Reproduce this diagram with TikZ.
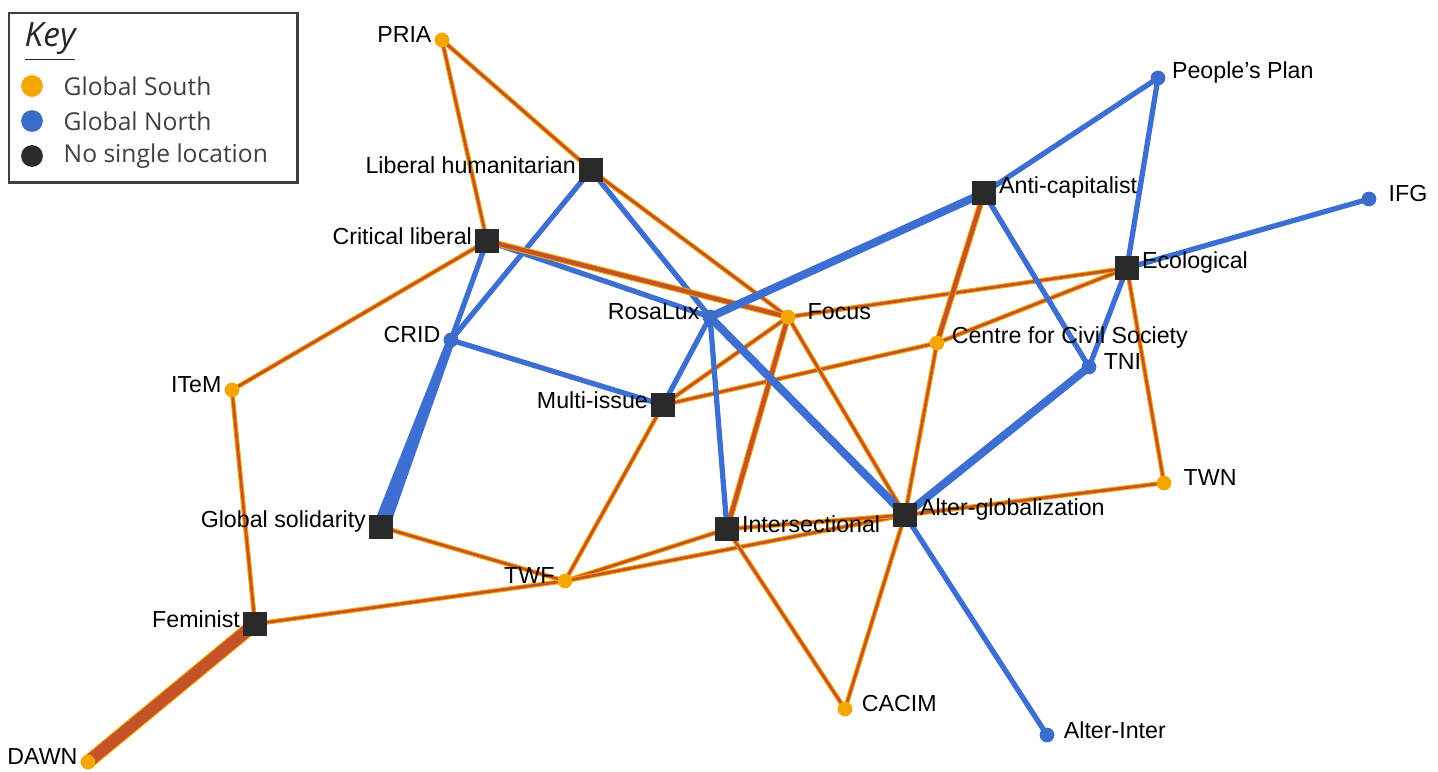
\documentclass[tikz,border=0pt]{standalone}
\usepackage{fontspec}
\setmainfont{Liberation Sans}
\newfontfamily\keyfont{Open Sans}
\usetikzlibrary{backgrounds,calc}
\definecolor{gsouth}{HTML}{F4A600}
\definecolor{gnorth}{HTML}{3B6CC9}
\definecolor{nsl}{HTML}{2A2A2A}
\definecolor{redcore}{HTML}{C4532A}
\definecolor{bluedge}{HTML}{3D6FD2}
\begin{document}
\begin{tikzpicture}[x=0.01cm,y=-0.01cm,
 lab/.style={font=\fontsize{6.6}{7.5}\selectfont, text=black, inner sep=0.5pt, yshift=1.5pt},
 sq/.style={rectangle, fill=nsl, minimum size=6.8pt, inner sep=0pt, label distance=0.1pt},
 sqr/.style={sq, label distance=1.8pt},
 sdot/.style={circle, fill=gsouth, minimum size=4.2pt, inner sep=0pt, label distance=1.6pt},
 ndot/.style={circle, fill=gnorth, minimum size=4.2pt, inner sep=0pt, label distance=1.6pt},
 oe/.style={draw=gsouth, line width=0.3pt, double=redcore, double distance=0.75pt},
 oet/.style={draw=gsouth, line width=0.3pt, double=redcore, double distance=1.2pt},
 be/.style={draw=bluedge, line width=1.5pt},
 bet/.style={draw=bluedge, line width=2.3pt},
 keydot/.style={circle, minimum width=6.2pt, minimum height=5.6pt, inner sep=0pt},
 keytxt/.style={font=\keyfont\fontsize{7}{8}\selectfont, anchor=west, inner sep=0pt, text=black!75}
]
\useasboundingbox (0,0) rectangle (1438,772);
% nodes
\node[sdot, label={[lab]left:PRIA}] (pria) at (442,40) {};
\node[sq, label={[lab]left:Liberal humanitarian}] (libhum) at (591,170) {};
\node[sq, label={[lab]left:Critical liberal}] (critlib) at (487,241) {};
\node[ndot, label={[lab]left:CRID}] (crid) at (451,340) {};
\node[sdot, label={[lab]left:ITeM}] (item) at (232,390) {};
\node[sq, label={[lab]left:Global solidarity}] (globsol) at (381,527) {};
\node[sq, label={[lab]left:Feminist}] (fem) at (255,624) {};
\node[sdot, label={[lab]left:DAWN}] (dawn) at (88,762) {};
\node[sdot, label={[lab]left:TWF}] (twf) at (565,581) {};
\node[sq, label={[lab]left:Multi-issue}] (multi) at (663,405) {};
\node[ndot, label={[lab]left:RosaLux}] (rosa) at (710,317) {};
\node[sdot, label={[lab, xshift=2.6pt]right:Focus}] (focus) at (788,317) {};
\node[sqr, label={[lab]right:Intersectional}] (inter) at (727,529) {};
\node[sqr, label={[lab]right:Alter-globalization}] (alter) at (905,515) {};
\node[sdot, label={[lab, xshift=1.8pt]right:CACIM}] (cacim) at (845,709) {};
\node[ndot, label={[lab, xshift=1.8pt]right:Alter-Inter}] (alterinter) at (1047,735) {};
\node[sdot, label={[lab, xshift=1.2pt]right:Centre for Civil Society}] (ccs) at (937,343) {};
\node[ndot, label={[lab, xshift=1.2pt]right:TNI}] (tni) at (1089,367) {};
\node[sq, label={[lab]right:Ecological}] (eco) at (1127,268) {};
\node[sqr, label={[lab]right:Anti-capitalist}] (anti) at (984,193) {};
\node[ndot, label={[lab, xshift=1pt]right:People's Plan}] (pplan) at (1158,78) {};
\node[ndot, label={[lab, xshift=2.6pt]right:IFG}] (ifg) at (1369,199) {};
\node[sdot, label={[lab, xshift=2.6pt]right:TWN}] (twn) at (1164,483) {};
% key
\node[draw=black!75, line width=0.7pt, minimum width=2.88cm, minimum height=1.69cm, anchor=north west, inner sep=0pt] (key) at (8,12) {};
\node[font=\keyfont\itshape\fontsize{9.5}{10}\selectfont, anchor=west, inner sep=0pt, text=black!85] (keyt) at (24,42) {\underline{Key}};
\node[keydot, fill=gsouth] (k1) at (32,86) {};
\node[keytxt] (k1t) at (63,86) {Global South};
\node[keydot, fill=gnorth] (k2) at (32,121) {};
\node[keytxt] (k2t) at (63,121) {Global North};
\node[keydot, fill=nsl] (k3) at (32,156) {};
\node[keytxt] (k3t) at (63,156) {No single location};
% edges
\begin{scope}[on background layer]
\fill[white] (0,0) rectangle (1438,772);
\draw[oe] (pria.center) -- (critlib.center);
\draw[oe] (pria.center) -- (libhum.center);
\draw[be] (libhum.center) -- (crid.center);
\draw[be] (libhum.center) -- (rosa.center);
\draw[oe] (libhum.center) -- (focus.center);
\draw[oe] (critlib.center) -- (item.center);
\draw[be] (critlib.center) -- (crid.center);
\draw[be] (critlib.center) -- (rosa.center);
\draw[oet] (critlib.center) -- (focus.center);
\fill[bluedge] ($(crid.center)!1.2pt!90:(globsol.center)$) -- ($(crid.center)!1.2pt!-90:(globsol.center)$)
  -- ($(globsol.center)!2.3pt!90:(crid.center)$) -- ($(globsol.center)!2.3pt!-90:(crid.center)$) -- cycle;
\draw[be] (crid.center) -- (multi.center);
\draw[oe] (item.center) -- (fem.center);
\draw[draw=gsouth, line width=0.3pt, double=redcore, double distance=3.4pt] (fem.center) -- (dawn.center);
\draw[oe] (fem.center) -- (twf.center);
\draw[oe] (globsol.center) -- (twf.center);
\draw[oe] (twf.center) -- (multi.center);
\draw[oe] (twf.center) -- (inter.center);
\draw[oe] (twf.center) -- (alter.center);
\draw[be] (multi.center) -- (rosa.center);
\draw[oe] (multi.center) -- (focus.center);
\draw[oe] (multi.center) -- (ccs.center);
\draw[oe] (ccs.center) -- (eco.center);
\draw[oe] (focus.center) -- (eco.center);
\draw[oet] (focus.center) -- (inter.center);
\draw[oe] (focus.center) -- (alter.center);
\draw[bet] (rosa.center) -- (anti.center);
\draw[be] (rosa.center) -- (inter.center);
\draw[bet] (rosa.center) -- (alter.center);
\draw[be] (anti.center) -- (pplan.center);
\draw[oet] (anti.center) -- (ccs.center);
\draw[be] (anti.center) -- (tni.center);
\draw[be] (pplan.center) -- (eco.center);
\draw[be] (eco.center) -- (ifg.center);
\draw[be] (eco.center) -- (tni.center);
\draw[oe] (eco.center) -- (twn.center);
\draw[bet] (tni.center) -- (alter.center);
\draw[oe] (ccs.center) -- (alter.center);
\draw[oe] (twn.center) -- (alter.center);
\draw[oe] (inter.center) -- (alter.center);
\draw[oe] (inter.center) -- (cacim.center);
\draw[oe] (alter.center) -- (cacim.center);
\draw[be] (alter.center) -- (alterinter.center);
\end{scope}
\end{tikzpicture}
\end{document}
